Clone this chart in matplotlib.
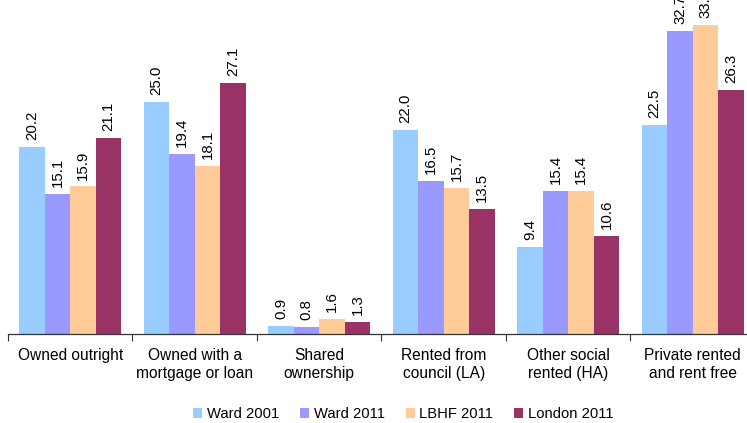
import numpy as np
import matplotlib
matplotlib.use('Agg')
import matplotlib.pyplot as plt

# Data
categories = ['Owned outright', 'Owned with a\nmortgage or loan', 'Shared\nownership',
              'Rented from\ncouncil (LA)', 'Other social\nrented (HA)', 'Private rented\nand rent free']
ward_2001 = [20.2, 25.0, 0.9, 22.0, 9.4, 22.5]
ward_2011 = [15.1, 19.4, 0.8, 16.5, 15.4, 32.7]
lbhf_2011 = [15.9, 18.1, 1.6, 15.7, 15.4, 33.3]
london_2011 = [21.1, 27.1, 1.3, 13.5, 10.6, 26.3]
series_names = ['Ward 2001', 'Ward 2011', 'LBHF 2011', 'London 2011']
series_colors = ['#99CCFF', '#9999FF', '#FFCC99', '#993366']


def main():
    plt.rcParams['font.family'] = ['Liberation Sans', 'DejaVu Sans']

    fig = plt.figure(figsize=(7.47, 4.23), dpi=100)
    # axis runs past the right and top edge of the picture (cropped look)
    ax = fig.add_axes([8 / 747, 89 / 423, 747 / 747, 334 / 423])

    data = [ward_2001, ward_2011, lbhf_2011, london_2011]
    n = len(categories)
    width = 0.205
    centers = np.arange(n) + 0.5

    for i, (vals, name, col) in enumerate(zip(data, series_names, series_colors)):
        xs = centers + (i - 1.5) * width
        bars = ax.bar(xs, vals, width, color=col, label=name, linewidth=0)
        for b, v in zip(bars, vals):
            ax.annotate(f'{v:.1f}', (b.get_x() + b.get_width() / 2, v),
                        xytext=(0, 5), textcoords='offset points',
                        rotation=90, ha='center', va='bottom', fontsize=10.8,
                        annotation_clip=False)

    ax.set_xlim(0, n)
    ax.set_ylim(0, 36)

    # group boundaries as ticks, labels at centers
    ax.set_xticks(np.arange(n + 1))
    ax.set_xticklabels([])
    ax.tick_params(axis='x', which='major', direction='out', length=5, width=0.8, color='#333333')
    ax.set_xticks(centers, minor=True)
    ax.set_xticklabels(categories, minor=True, fontsize=11.2, linespacing=1.3)
    ax.tick_params(axis='x', which='minor', length=0, pad=10)
    ax.set_yticks([])

    for s in ['top', 'right', 'left']:
        ax.spines[s].set_visible(False)
    ax.spines['bottom'].set_color('#333333')
    ax.spines['bottom'].set_linewidth(0.9)

    fig.legend(loc='lower center', bbox_to_anchor=(0.54, -0.027), ncol=4, frameon=False,
               fontsize=10.6, handlelength=0.6, handleheight=0.6, handletextpad=0.3,
               columnspacing=1.45)

    fig.savefig('out.png', dpi=100)


if __name__ == '__main__':
    main()
